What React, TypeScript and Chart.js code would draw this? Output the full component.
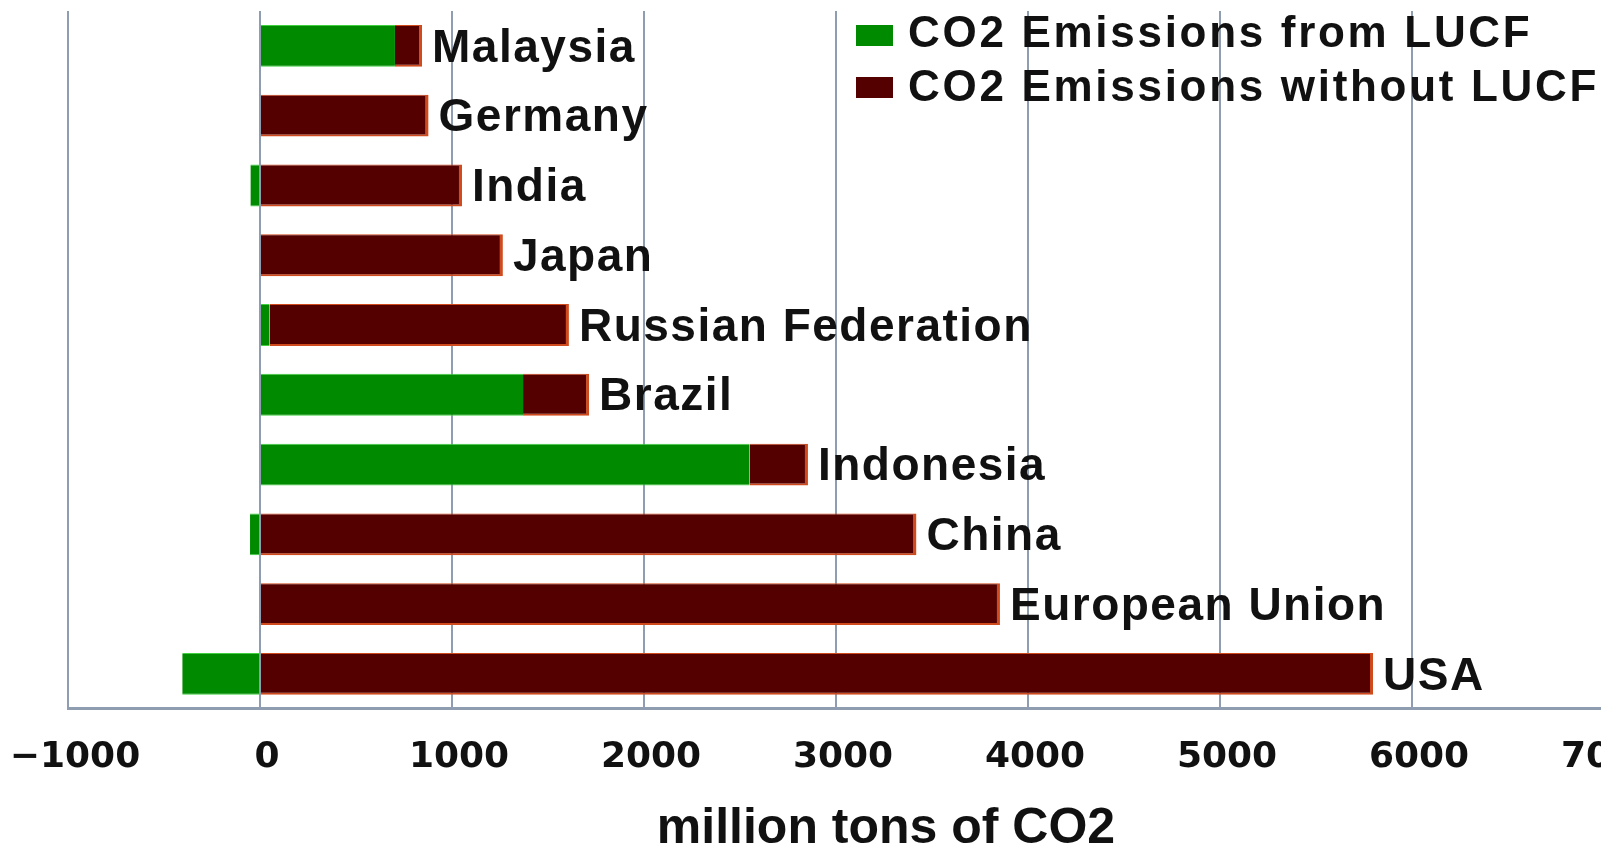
import React, { useEffect, useRef } from "react";
import { Chart, registerables } from "chart.js";

Chart.register(...registerables);

// Countries, top to bottom
const countries = [
  "Malaysia",
  "Germany",
  "India",
  "Japan",
  "Russian Federation",
  "Brazil",
  "Indonesia",
  "China",
  "European Union",
  "USA",
];

// million tons of CO2
const lucfEmissions = [703, 0, -50, 0, 50, 1370, 2550, -52, 0, -405];
const nonLucfEmissions = [141, 878, 1052, 1265, 1559, 344, 304, 3419, 3854, 5797];

const seriesNames = ["CO2 Emissions from LUCF", "CO2 Emissions without LUCF"];
const axisTitle = "million tons of CO2";

const xMin = -1000;
const xMax = 7000;
const xStep = 1000;

const CANVAS_W = 1720;
const CANVAS_H = 845;

const GREEN = "#008a00";
const GREEN_EDGE = "#3fcf3f";
const MAROON = "#550000";
const MAROON_EDGE = "#cf4a1c";
const GRID = "#8f9db0";
const INK = "#111111";
const FONT = "'Liberation Sans', Arial, sans-serif";
const TICK_FONT = "'DejaVu Sans', Verdana, sans-serif";

// Country names written just past the end of each bar
const endLabels = {
  id: "endLabels",
  afterDatasetsDraw(chart: any) {
    const { ctx } = chart;
    const metas = chart.data.datasets.map((_: any, i: number) => chart.getDatasetMeta(i));
    ctx.save();
    ctx.font = `bold 46px ${FONT}`;
    (ctx as any).letterSpacing = "1.5px";
    ctx.fillStyle = INK;
    ctx.textBaseline = "middle";
    ctx.textAlign = "left";
    (chart.data.labels as string[]).forEach((label, i) => {
      let end = -Infinity;
      let y = 0;
      metas.forEach((m: any) => {
        const el = m.data[i];
        if (!el) return;
        end = Math.max(end, el.x, el.base);
        y = el.y;
      });
      ctx.fillText(label, end + 10, y + 3);
    });
    ctx.restore();
  },
};

// Legend in the upper right and the axis title below the ticks
const legendAndTitle = {
  id: "legendAndTitle",
  afterDraw(chart: any) {
    const { ctx } = chart;
    ctx.save();
    ctx.font = `bold 44px ${FONT}`;
    (ctx as any).letterSpacing = "2.7px";
    ctx.textBaseline = "alphabetic";
    ctx.textAlign = "left";
    chart.data.datasets.forEach((ds: any, i: number) => {
      const rowTop = 25 + i * 52;
      ctx.fillStyle = ds.backgroundColor;
      ctx.fillRect(856, rowTop, 37, 21);
      ctx.fillStyle = INK;
      ctx.fillText(ds.label, 908, 47 + i * 54);
    });
    (ctx as any).letterSpacing = "0px";
    ctx.font = `bold 50px ${FONT}`;
    ctx.textAlign = "center";
    ctx.fillText(axisTitle, 886, 843);
    ctx.restore();
  },
};

export default function App() {
  const canvasRef = useRef<HTMLCanvasElement | null>(null);

  useEffect(() => {
    const canvas = canvasRef.current;
    if (!canvas) return;
    const chart = new Chart(canvas, {
      type: "bar",
      data: {
        labels: countries,
        datasets: [
          {
            label: seriesNames[0],
            data: lucfEmissions,
            backgroundColor: GREEN,
            borderColor: GREEN_EDGE,
            borderWidth: { top: 1, bottom: 1, left: 0, right: 0 },
            borderSkipped: false,
            barPercentage: 0.6,
            categoryPercentage: 1,
          },
          {
            label: seriesNames[1],
            data: nonLucfEmissions,
            backgroundColor: MAROON,
            borderColor: MAROON_EDGE,
            borderWidth: { top: 1, right: 3, bottom: 2, left: 0 },
            borderSkipped: false,
            barPercentage: 0.6,
            categoryPercentage: 1,
          },
        ],
      },
      options: {
        indexAxis: "y",
        responsive: false,
        animation: false,
        devicePixelRatio: 1,
        layout: { padding: { left: 68, right: CANVAS_W - 1604, top: 11, bottom: 66 } },
        plugins: {
          legend: { display: false },
          tooltip: { enabled: false },
          title: { display: false },
        },
        scales: {
          x: {
            type: "linear",
            stacked: true,
            min: xMin,
            max: xMax,
            ticks: {
              stepSize: xStep,
              color: INK,
              font: { family: TICK_FONT, size: 36, weight: "bold" },
              padding: 0,
              labelOffset: 7,
              maxRotation: 0,
              autoSkip: false,
              callback: (v: any) => (Number(v) < 0 ? "\u2212" + Math.abs(Number(v)) : String(v)),
            },
            grid: {
              color: GRID,
              lineWidth: 2,
              tickLength: 27,
              drawTicks: true,
              tickColor: "rgba(0,0,0,0)",
            },
            border: { color: GRID, width: 3 },
          },
          y: {
            type: "category",
            stacked: true,
            display: false,
            grid: { display: false },
          },
        },
      },
      plugins: [endLabels, legendAndTitle],
    } as any);
    return () => chart.destroy();
  }, []);

  return (
    <div
      style={{
        position: "fixed",
        left: 0,
        top: 0,
        width: "100vw",
        height: "100vh",
        overflow: "hidden",
        background: "#ffffff",
      }}
    >
      <canvas
        ref={canvasRef}
        width={CANVAS_W}
        height={CANVAS_H}
        style={{ display: "block", width: CANVAS_W, height: CANVAS_H }}
      />
    </div>
  );
}
